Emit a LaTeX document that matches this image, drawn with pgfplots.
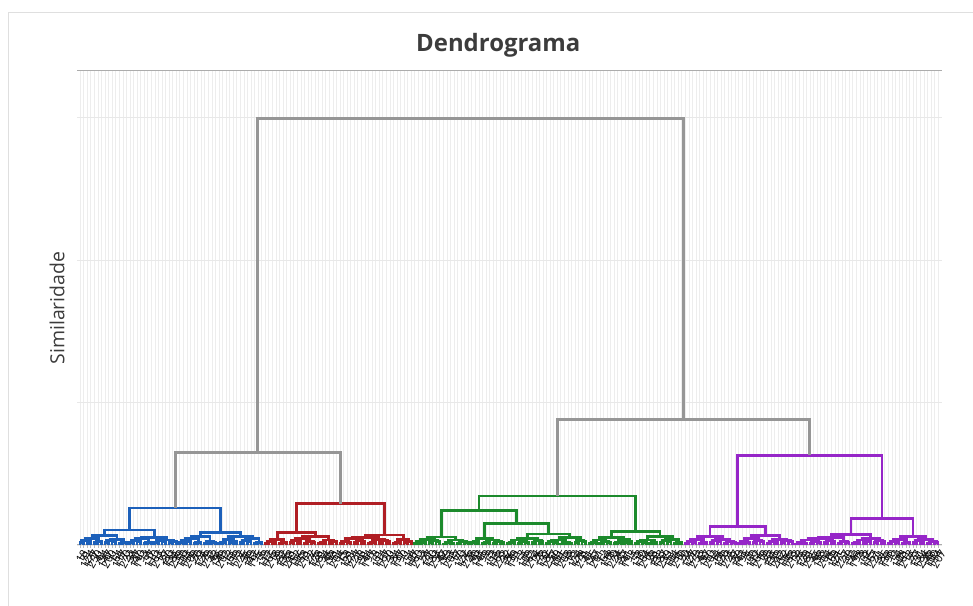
\documentclass[border=0pt]{standalone}
\usepackage{pgfplots}
\pgfplotsset{compat=1.18}
\usepackage{fontspec}
\setmainfont{Open Sans}
\definecolor{cblue}{RGB}{28,96,186}
\definecolor{cred}{RGB}{176,30,36}
\definecolor{cgreen}{RGB}{28,138,44}
\definecolor{cpurple}{RGB}{150,38,200}
\definecolor{cgrey}{RGB}{150,150,150}
\definecolor{ctitle}{RGB}{60,60,60}
\begin{document}
\begin{tikzpicture}
\useasboundingbox (0,0) rectangle (973bp,606bp);
\draw[gray!25, line width=0.8bp] (8bp,-2bp) |- (975bp,594bp);
\begin{axis}[
  at={(77bp,61bp)}, anchor=south west,
  scale only axis, width=865bp, height=474bp,
  xmin=-0.85, xmax=242.1, ymin=0, ymax=3.326,
  clip=false,
  unbounded coords=jump,
  separate axis lines,
  x axis line style={draw=gray!65, line width=1bp},
  y axis line style={draw=none},
  xtick={0,...,241},
  xtick pos=bottom,
  tick align=outside,
  major tick length=3bp,
  x tick style={gray!55, line width=0.5bp},
  xticklabel={\pgfmathtruncatemacro\lab{mod(\tick*53+17,242)+1}\lab},
  xticklabel style={font=\fontsize{11}{11}\selectfont, text=black, rotate=60, anchor=east, inner sep=0pt, yshift=-6bp},
  ytick={0,1,2,3}, yticklabels={}, y tick style={draw=none},
  xmajorgrids, ymajorgrids,
  x grid style={gray!14, line width=0.5bp},
  y grid style={gray!18, line width=0.6bp},
  title={Dendrograma},
  title style={font=\fontsize{24}{28}\selectfont\bfseries, text=ctitle, at={(axis description cs:0.487,1)}, anchor=base, yshift=14bp},
  ylabel={Similaridade},
  ylabel style={font=\fontsize{19.5}{22}\selectfont, text=ctitle, at={(axis description cs:-0.0231,0.5)}, anchor=center, rotate=0},
]
% ---------- BLUE ----------
\addplot[cblue, line width=2.8bp] coordinates {
(0,0)(0,.017)(1,.017)(1,0) (nan,nan)
(2,0)(2,.022)(3,.022)(3,0) (nan,nan)
(0.5,.017)(0.5,.03)(2.5,.03)(2.5,.022) (nan,nan)
(4,0)(4,.015)(5,.015)(5,0) (nan,nan)
(4.5,.015)(4.5,.025)(6,.025)(6,0) (nan,nan)
(1.5,.03)(1.5,.045)(5.25,.045)(5.25,.025) (nan,nan)
(7,0)(7,.017)(8,.017)(8,0) (nan,nan)
(9,0)(9,.022)(10,.022)(10,0) (nan,nan)
(7.5,.017)(7.5,.03)(9.5,.03)(9.5,.022) (nan,nan)
(11,0)(11,.01)(12,.01)(12,0) (nan,nan)
(11.5,.01)(11.5,.02)(13,.02)(13,0) (nan,nan)
(8.5,.03)(8.5,.04)(12.25,.04)(12.25,.02) (nan,nan)
(3.375,.045)(3.375,.065)(10.375,.065)(10.375,.04) (nan,nan)
(14,0)(14,.017)(15,.017)(15,0) (nan,nan)
(16,0)(16,.022)(17,.022)(17,0) (nan,nan)
(14.5,.017)(14.5,.03)(16.5,.03)(16.5,.022) (nan,nan)
(18,0)(18,.01)(19,.01)(19,0) (nan,nan)
(18.5,.01)(18.5,.02)(20,.02)(20,0) (nan,nan)
(15.5,.03)(15.5,.045)(19.25,.045)(19.25,.02) (nan,nan)
(21,0)(21,.017)(22,.017)(22,0) (nan,nan)
(23,0)(23,.022)(24,.022)(24,0) (nan,nan)
(21.5,.017)(21.5,.03)(23.5,.03)(23.5,.022) (nan,nan)
(25,0)(25,.015)(26,.015)(26,0) (nan,nan)
(25.5,.015)(25.5,.025)(27,.025)(27,0) (nan,nan)
(22.5,.03)(22.5,.035)(26.25,.035)(26.25,.025) (nan,nan)
(17.375,.045)(17.375,.055)(24.375,.055)(24.375,.035) (nan,nan)
(6.875,.065)(6.875,.105)(20.875,.105)(20.875,.055) (nan,nan)
(28,0)(28,.017)(29,.017)(29,0) (nan,nan)
(30,0)(30,.022)(31,.022)(31,0) (nan,nan)
(28.5,.017)(28.5,.03)(30.5,.03)(30.5,.022) (nan,nan)
(32,0)(32,.01)(33,.01)(33,0) (nan,nan)
(32.5,.01)(32.5,.02)(34,.02)(34,0) (nan,nan)
(29.5,.03)(29.5,.045)(33.25,.045)(33.25,.02) (nan,nan)
(35,0)(35,.012)(36,.012)(36,0) (nan,nan)
(37,0)(37,.017)(38,.017)(38,0) (nan,nan)
(35.5,.012)(35.5,.025)(37.5,.025)(37.5,.017) (nan,nan)
(31.375,.045)(31.375,.06)(36.5,.06)(36.5,.025) (nan,nan)
(39,0)(39,.01)(40,.01)(40,0) (nan,nan)
(39.5,.01)(39.5,.02)(41,.02)(41,0) (nan,nan)
(42,0)(42,.015)(43,.015)(43,0) (nan,nan)
(42.5,.015)(42.5,.025)(44,.025)(44,0) (nan,nan)
(40.25,.02)(40.25,.04)(43.25,.04)(43.25,.025) (nan,nan)
(45,0)(45,.017)(46,.017)(46,0) (nan,nan)
(47,0)(47,.022)(48,.022)(48,0) (nan,nan)
(45.5,.017)(45.5,.03)(47.5,.03)(47.5,.022) (nan,nan)
(49,0)(49,.01)(50,.01)(50,0) (nan,nan)
(49.5,.01)(49.5,.02)(51,.02)(51,0) (nan,nan)
(46.5,.03)(46.5,.045)(50.25,.045)(50.25,.02) (nan,nan)
(41.75,.04)(41.75,.06)(48.375,.06)(48.375,.045) (nan,nan)
(33.9375,.06)(33.9375,.086)(45.0625,.086)(45.0625,.06) (nan,nan)
(13.875,.105)(13.875,.26)(39.5,.26)(39.5,.086)
};
% ---------- RED ----------
\addplot[cred, line width=2.8bp] coordinates {
(52,0)(52,.012)(53,.012)(53,0) (nan,nan)
(54,0)(54,.017)(55,.017)(55,0) (nan,nan)
(52.5,.012)(52.5,.025)(54.5,.025)(54.5,.017) (nan,nan)
(56,0)(56,.01)(57,.01)(57,0) (nan,nan)
(56.5,.01)(56.5,.02)(58,.02)(58,0) (nan,nan)
(53.5,.025)(53.5,.04)(57.25,.04)(57.25,.02) (nan,nan)
(59,0)(59,.017)(60,.017)(60,0) (nan,nan)
(61,0)(61,.022)(62,.022)(62,0) (nan,nan)
(59.5,.017)(59.5,.03)(61.5,.03)(61.5,.022) (nan,nan)
(63,0)(63,.012)(64,.012)(64,0) (nan,nan)
(65,0)(65,.017)(66,.017)(66,0) (nan,nan)
(63.5,.012)(63.5,.025)(65.5,.025)(65.5,.017) (nan,nan)
(60.5,.03)(60.5,.045)(64.5,.045)(64.5,.025) (nan,nan)
(67,0)(67,.01)(68,.01)(68,0) (nan,nan)
(67.5,.01)(67.5,.02)(69,.02)(69,0) (nan,nan)
(70,0)(70,.015)(71,.015)(71,0) (nan,nan)
(70.5,.015)(70.5,.025)(72,.025)(72,0) (nan,nan)
(68.25,.02)(68.25,.035)(71.25,.035)(71.25,.025) (nan,nan)
(62.5,.045)(62.5,.06)(69.75,.06)(69.75,.035) (nan,nan)
(55.375,.04)(55.375,.085)(66.125,.085)(66.125,.06) (nan,nan)
(73,0)(73,.012)(74,.012)(74,0) (nan,nan)
(75,0)(75,.017)(76,.017)(76,0) (nan,nan)
(73.5,.012)(73.5,.025)(75.5,.025)(75.5,.017) (nan,nan)
(77,0)(77,.017)(78,.017)(78,0) (nan,nan)
(79,0)(79,.022)(80,.022)(80,0) (nan,nan)
(77.5,.017)(77.5,.03)(79.5,.03)(79.5,.022) (nan,nan)
(74.5,.025)(74.5,.045)(78.5,.045)(78.5,.03) (nan,nan)
(81,0)(81,.01)(82,.01)(82,0) (nan,nan)
(81.5,.01)(81.5,.02)(83,.02)(83,0) (nan,nan)
(84,0)(84,.017)(85,.017)(85,0) (nan,nan)
(86,0)(86,.022)(87,.022)(87,0) (nan,nan)
(84.5,.017)(84.5,.03)(86.5,.03)(86.5,.022) (nan,nan)
(82.25,.02)(82.25,.04)(85.5,.04)(85.5,.03) (nan,nan)
(88,0)(88,.01)(89,.01)(89,0) (nan,nan)
(88.5,.01)(88.5,.02)(90,.02)(90,0) (nan,nan)
(91,0)(91,.015)(92,.015)(92,0) (nan,nan)
(91.5,.015)(91.5,.025)(93,.025)(93,0) (nan,nan)
(89.25,.02)(89.25,.04)(92.25,.04)(92.25,.025) (nan,nan)
(76.5,.045)(76.5,.055)(83.875,.055)(83.875,.04) (nan,nan)
(80.1875,.055)(80.1875,.07)(90.75,.07)(90.75,.04) (nan,nan)
(60.75,.085)(60.75,.29)(85.46875,.29)(85.46875,.07)
};
% ---------- GREEN ----------
\addplot[cgreen, line width=2.8bp] coordinates {
(94,0)(94,.012)(95,.012)(95,0) (nan,nan)
(96,0)(96,.017)(97,.017)(97,0) (nan,nan)
(94.5,.012)(94.5,.025)(96.5,.025)(96.5,.017) (nan,nan)
(98,0)(98,.017)(99,.017)(99,0) (nan,nan)
(100,0)(100,.022)(101,.022)(101,0) (nan,nan)
(98.5,.017)(98.5,.03)(100.5,.03)(100.5,.022) (nan,nan)
(95.5,.025)(95.5,.04)(99.5,.04)(99.5,.03) (nan,nan)
(102,0)(102,.007)(103,.007)(103,0) (nan,nan)
(104,0)(104,.012)(105,.012)(105,0) (nan,nan)
(102.5,.007)(102.5,.02)(104.5,.02)(104.5,.012) (nan,nan)
(106,0)(106,.012)(107,.012)(107,0) (nan,nan)
(108,0)(108,.017)(109,.017)(109,0) (nan,nan)
(106.5,.012)(106.5,.025)(108.5,.025)(108.5,.017) (nan,nan)
(103.5,.02)(103.5,.035)(107.5,.035)(107.5,.025) (nan,nan)
(97.5,.04)(97.5,.056)(105.5,.056)(105.5,.035) (nan,nan)
(110,0)(110,.015)(111,.015)(111,0) (nan,nan)
(110.5,.015)(110.5,.025)(112,.025)(112,0) (nan,nan)
(113,0)(113,.01)(114,.01)(114,0) (nan,nan)
(113.5,.01)(113.5,.02)(115,.02)(115,0) (nan,nan)
(116,0)(116,.012)(117,.012)(117,0) (nan,nan)
(118,0)(118,.017)(119,.017)(119,0) (nan,nan)
(116.5,.012)(116.5,.025)(118.5,.025)(118.5,.017) (nan,nan)
(114.25,.02)(114.25,.035)(117.5,.035)(117.5,.025) (nan,nan)
(111.25,.025)(111.25,.045)(115.875,.045)(115.875,.035) (nan,nan)
(120,0)(120,.01)(121,.01)(121,0) (nan,nan)
(120.5,.01)(120.5,.02)(122,.02)(122,0) (nan,nan)
(123,0)(123,.012)(124,.012)(124,0) (nan,nan)
(125,0)(125,.017)(126,.017)(126,0) (nan,nan)
(123.5,.012)(123.5,.025)(125.5,.025)(125.5,.017) (nan,nan)
(121.25,.02)(121.25,.035)(124.5,.035)(124.5,.025) (nan,nan)
(127,0)(127,.017)(128,.017)(128,0) (nan,nan)
(129,0)(129,.022)(130,.022)(130,0) (nan,nan)
(127.5,.017)(127.5,.03)(129.5,.03)(129.5,.022) (nan,nan)
(122.875,.035)(122.875,.045)(128.5,.045)(128.5,.03) (nan,nan)
(131,0)(131,.012)(132,.012)(132,0) (nan,nan)
(133,0)(133,.017)(134,.017)(134,0) (nan,nan)
(131.5,.012)(131.5,.025)(133.5,.025)(133.5,.017) (nan,nan)
(135,0)(135,.007)(136,.007)(136,0) (nan,nan)
(137,0)(137,.012)(138,.012)(138,0) (nan,nan)
(135.5,.007)(135.5,.02)(137.5,.02)(137.5,.012) (nan,nan)
(132.5,.025)(132.5,.035)(136.5,.035)(136.5,.02) (nan,nan)
(139,0)(139,.017)(140,.017)(140,0) (nan,nan)
(141,0)(141,.022)(142,.022)(142,0) (nan,nan)
(139.5,.017)(139.5,.03)(141.5,.03)(141.5,.022) (nan,nan)
(134.5,.035)(134.5,.05)(140.5,.05)(140.5,.03) (nan,nan)
(125.6875,.045)(125.6875,.077)(137.5,.077)(137.5,.05) (nan,nan)
(113.5625,.045)(113.5625,.152)(131.59375,.152)(131.59375,.077) (nan,nan)
(101.5,.056)(101.5,.24)(122.578125,.24)(122.578125,.152) (nan,nan)
(143,0)(143,.01)(144,.01)(144,0) (nan,nan)
(143.5,.01)(143.5,.02)(145,.02)(145,0) (nan,nan)
(146,0)(146,.012)(147,.012)(147,0) (nan,nan)
(148,0)(148,.017)(149,.017)(149,0) (nan,nan)
(146.5,.012)(146.5,.025)(148.5,.025)(148.5,.017) (nan,nan)
(144.25,.02)(144.25,.035)(147.5,.035)(147.5,.025) (nan,nan)
(150,0)(150,.01)(151,.01)(151,0) (nan,nan)
(150.5,.01)(150.5,.02)(152,.02)(152,0) (nan,nan)
(153,0)(153,.015)(154,.015)(154,0) (nan,nan)
(153.5,.015)(153.5,.025)(155,.025)(155,0) (nan,nan)
(151.25,.02)(151.25,.04)(154.25,.04)(154.25,.025) (nan,nan)
(145.875,.035)(145.875,.055)(152.75,.055)(152.75,.04) (nan,nan)
(156,0)(156,.012)(157,.012)(157,0) (nan,nan)
(158,0)(158,.017)(159,.017)(159,0) (nan,nan)
(156.5,.012)(156.5,.025)(158.5,.025)(158.5,.017) (nan,nan)
(160,0)(160,.01)(161,.01)(161,0) (nan,nan)
(160.5,.01)(160.5,.02)(162,.02)(162,0) (nan,nan)
(157.5,.025)(157.5,.035)(161.25,.035)(161.25,.02) (nan,nan)
(163,0)(163,.017)(164,.017)(164,0) (nan,nan)
(165,0)(165,.022)(166,.022)(166,0) (nan,nan)
(163.5,.017)(163.5,.03)(165.5,.03)(165.5,.022) (nan,nan)
(167,0)(167,.01)(168,.01)(168,0) (nan,nan)
(167.5,.01)(167.5,.02)(169,.02)(169,0) (nan,nan)
(164.5,.03)(164.5,.04)(168.25,.04)(168.25,.02) (nan,nan)
(159.375,.035)(159.375,.06)(166.375,.06)(166.375,.04) (nan,nan)
(149.3125,.055)(149.3125,.093)(162.875,.093)(162.875,.06) (nan,nan)
(112.0390625,.24)(112.0390625,.344)(156.09375,.344)(156.09375,.093)
};
% ---------- PURPLE ----------
\addplot[cpurple, line width=2.8bp] coordinates {
(170,0)(170,.012)(171,.012)(171,0) (nan,nan)
(172,0)(172,.017)(173,.017)(173,0) (nan,nan)
(170.5,.012)(170.5,.025)(172.5,.025)(172.5,.017) (nan,nan)
(174,0)(174,.01)(175,.01)(175,0) (nan,nan)
(174.5,.01)(174.5,.02)(176,.02)(176,0) (nan,nan)
(171.5,.025)(171.5,.04)(175.25,.04)(175.25,.02) (nan,nan)
(177,0)(177,.017)(178,.017)(178,0) (nan,nan)
(179,0)(179,.022)(180,.022)(180,0) (nan,nan)
(177.5,.017)(177.5,.03)(179.5,.03)(179.5,.022) (nan,nan)
(181,0)(181,.012)(182,.012)(182,0) (nan,nan)
(183,0)(183,.017)(184,.017)(184,0) (nan,nan)
(181.5,.012)(181.5,.025)(183.5,.025)(183.5,.017) (nan,nan)
(178.5,.03)(178.5,.04)(182.5,.04)(182.5,.025) (nan,nan)
(173.375,.04)(173.375,.06)(180.5,.06)(180.5,.04) (nan,nan)
(185,0)(185,.012)(186,.012)(186,0) (nan,nan)
(187,0)(187,.017)(188,.017)(188,0) (nan,nan)
(185.5,.012)(185.5,.025)(187.5,.025)(187.5,.017) (nan,nan)
(189,0)(189,.017)(190,.017)(190,0) (nan,nan)
(191,0)(191,.022)(192,.022)(192,0) (nan,nan)
(189.5,.017)(189.5,.03)(191.5,.03)(191.5,.022) (nan,nan)
(186.5,.025)(186.5,.045)(190.5,.045)(190.5,.03) (nan,nan)
(193,0)(193,.012)(194,.012)(194,0) (nan,nan)
(195,0)(195,.017)(196,.017)(196,0) (nan,nan)
(193.5,.012)(193.5,.025)(195.5,.025)(195.5,.017) (nan,nan)
(197,0)(197,.017)(198,.017)(198,0) (nan,nan)
(199,0)(199,.022)(200,.022)(200,0) (nan,nan)
(197.5,.017)(197.5,.03)(199.5,.03)(199.5,.022) (nan,nan)
(194.5,.025)(194.5,.04)(198.5,.04)(198.5,.03) (nan,nan)
(188.5,.045)(188.5,.065)(196.5,.065)(196.5,.04) (nan,nan)
(176.9375,.06)(176.9375,.128)(192.5,.128)(192.5,.065) (nan,nan)
(201,0)(201,.007)(202,.007)(202,0) (nan,nan)
(203,0)(203,.012)(204,.012)(204,0) (nan,nan)
(201.5,.007)(201.5,.02)(203.5,.02)(203.5,.012) (nan,nan)
(205,0)(205,.012)(206,.012)(206,0) (nan,nan)
(207,0)(207,.017)(208,.017)(208,0) (nan,nan)
(205.5,.012)(205.5,.025)(207.5,.025)(207.5,.017) (nan,nan)
(202.5,.02)(202.5,.035)(206.5,.035)(206.5,.025) (nan,nan)
(209,0)(209,.017)(210,.017)(210,0) (nan,nan)
(211,0)(211,.022)(212,.022)(212,0) (nan,nan)
(209.5,.017)(209.5,.03)(211.5,.03)(211.5,.022) (nan,nan)
(204.5,.035)(204.5,.045)(210.5,.045)(210.5,.03) (nan,nan)
(213,0)(213,.012)(214,.012)(214,0) (nan,nan)
(215,0)(215,.017)(216,.017)(216,0) (nan,nan)
(213.5,.012)(213.5,.025)(215.5,.025)(215.5,.017) (nan,nan)
(207.5,.045)(207.5,.055)(214.5,.055)(214.5,.025) (nan,nan)
(217,0)(217,.01)(218,.01)(218,0) (nan,nan)
(217.5,.01)(217.5,.02)(219,.02)(219,0) (nan,nan)
(220,0)(220,.015)(221,.015)(221,0) (nan,nan)
(220.5,.015)(220.5,.025)(222,.025)(222,0) (nan,nan)
(218.25,.02)(218.25,.035)(221.25,.035)(221.25,.025) (nan,nan)
(223,0)(223,.017)(224,.017)(224,0) (nan,nan)
(225,0)(225,.022)(226,.022)(226,0) (nan,nan)
(223.5,.017)(223.5,.03)(225.5,.03)(225.5,.022) (nan,nan)
(219.75,.035)(219.75,.045)(224.5,.045)(224.5,.03) (nan,nan)
(211,.055)(211,.075)(222.125,.075)(222.125,.045) (nan,nan)
(227,0)(227,.012)(228,.012)(228,0) (nan,nan)
(229,0)(229,.017)(230,.017)(230,0) (nan,nan)
(227.5,.012)(227.5,.025)(229.5,.025)(229.5,.017) (nan,nan)
(231,0)(231,.01)(232,.01)(232,0) (nan,nan)
(231.5,.01)(231.5,.02)(233,.02)(233,0) (nan,nan)
(228.5,.025)(228.5,.04)(232.25,.04)(232.25,.02) (nan,nan)
(234,0)(234,.017)(235,.017)(235,0) (nan,nan)
(236,0)(236,.022)(237,.022)(237,0) (nan,nan)
(234.5,.017)(234.5,.03)(236.5,.03)(236.5,.022) (nan,nan)
(238,0)(238,.012)(239,.012)(239,0) (nan,nan)
(240,0)(240,.017)(241,.017)(241,0) (nan,nan)
(238.5,.012)(238.5,.025)(240.5,.025)(240.5,.017) (nan,nan)
(235.5,.03)(235.5,.04)(239.5,.04)(239.5,.025) (nan,nan)
(230.375,.04)(230.375,.06)(237.5,.06)(237.5,.04) (nan,nan)
(216.5625,.075)(216.5625,.187)(233.9375,.187)(233.9375,.06) (nan,nan)
(184.71875,.128)(184.71875,.63)(225.25,.63)(225.25,.187)
};
% ---------- GREY (upper links) ----------
\addplot[cgrey, line width=3bp] coordinates {
(26.6875,.26)(26.6875,.65)(73.109375,.65)(73.109375,.29) (nan,nan)
(134.06640625,.344)(134.06640625,.88)(204.984375,.88)(204.984375,.63) (nan,nan)
(49.8984375,.65)(49.8984375,2.99)(169.525390625,2.99)(169.525390625,.88)
};
\end{axis}
\end{tikzpicture}
\end{document}
